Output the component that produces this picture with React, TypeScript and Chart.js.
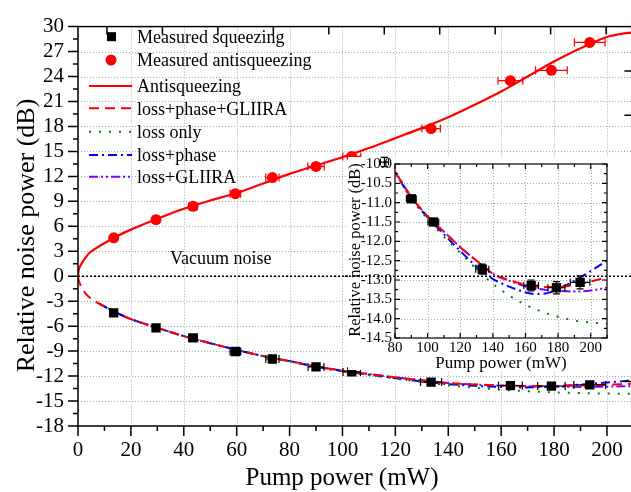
import React, { useEffect, useRef } from "react";
import { Chart, registerables } from "chart.js";
Chart.register(...registerables);

const FONT = '"Liberation Serif", "Times New Roman", serif';

// Measured data (pump power in mW, noise in dB)
const MEAS_X = [13.5, 29.5, 43.5, 59.5, 73.5, 90, 103.5, 133.5, 163.5, 179, 193.5];
const SQZ_Y = [-4.4, -6.2, -7.4, -9.05, -9.95, -10.9, -11.5, -12.72, -13.14, -13.2, -13.06];
const SQZ_XERR = [1.0, 1.3, 1.6, 2.0, 2.5, 3.0, 3.3, 4.0, 4.5, 5.2, 6.0];
const SQZ_YERR = [0.25, 0.2, 0.18, 0.15, 0.12, 0.06, 0.08, 0.13, 0.14, 0.16, 0.17];
const ANTI_Y = [4.62, 6.8, 8.4, 9.92, 11.85, 13.2, 14.4, 17.75, 23.5, 24.75, 28.1];
const ANTI_XERR = [1.0, 1.3, 1.6, 2.0, 2.5, 3.1, 3.4, 3.5, 4.7, 6.0, 5.8];
const ANTI_YERR = [0.2, 0.2, 0.2, 0.2, 0.2, 0.2, 0.2, 0.2, 0.2, 0.2, 0.2];

// Antisqueezing model curve
const ANTI_FIT_X = [0, 0.2, 0.6, 1.4, 3, 4.5, 7, 9.6, 13.4, 20, 30, 40, 50, 60, 70, 80, 90, 100, 110, 120, 130, 140, 150, 160, 170, 180, 190, 200, 205, 210];
const ANTI_FIT_Y = [0, 0.6, 1.05, 1.55, 2.3, 2.85, 3.4, 3.9, 4.6, 5.6, 6.9, 8.1, 9.1, 10.0, 11.15, 12.3, 13.3, 14.3, 15.4, 16.6, 17.8, 19.1, 20.6, 22.2, 24.0, 25.8, 27.4, 28.75, 29.1, 29.3];

// loss+phase+GLIIRA
const LPG_X = [0, 0.3, 1, 2, 3.5, 5, 8, 11, 14, 20, 25, 30, 40, 50, 60, 70, 80, 90, 100, 110, 120, 130, 140, 150, 160, 170, 180, 190, 200, 210];
const LPG_Y = [0, -0.5, -1.1, -1.7, -2.3, -2.7, -3.3, -3.8, -4.3, -5.15, -5.7, -6.2, -7.2, -8.05, -8.85, -9.6, -10.2, -10.85, -11.35, -11.75, -12.15, -12.5, -12.84, -13.0, -13.12, -13.18, -13.18, -13.13, -13.04, -12.93];

// loss only
const LO_X = [8, 11, 14, 20, 25, 30, 40, 50, 60, 70, 80, 90, 100, 110, 120, 130, 140, 150, 160, 170, 180, 190, 200, 210];
const LO_Y = [-3.3, -3.8, -4.3, -5.15, -5.7, -6.2, -7.2, -8.05, -8.85, -9.6, -10.22, -10.9, -11.42, -11.88, -12.3, -12.72, -13.1, -13.4, -13.64, -13.82, -13.95, -14.05, -14.1, -14.13];

// loss+phase
const LP_X = [8, 11, 14, 20, 25, 30, 40, 50, 60, 70, 80, 90, 100, 110, 120, 130, 140, 150, 160, 165, 170, 175, 180, 185, 190, 195, 200, 210];
const LP_Y = [-3.3, -3.8, -4.3, -5.15, -5.7, -6.2, -7.2, -8.05, -8.85, -9.6, -10.22, -10.88, -11.38, -11.82, -12.25, -12.65, -12.97, -13.17, -13.32, -13.36, -13.36, -13.32, -13.24, -13.13, -13.02, -12.9, -12.77, -12.5];

// loss+GLIIRA
const LG_X = [8, 11, 14, 20, 25, 30, 40, 50, 60, 70, 80, 90, 100, 110, 120, 130, 140, 150, 160, 170, 180, 190, 200, 210];
const LG_Y = [-3.3, -3.8, -4.3, -5.15, -5.7, -6.2, -7.2, -8.05, -8.85, -9.6, -10.2, -10.85, -11.35, -11.75, -12.15, -12.5, -12.84, -13.02, -13.16, -13.24, -13.28, -13.3, -13.27, -13.2];

// Axis tick settings
const MAIN_X_TICKS = { min: 0, max: 210, step: 20, minor: 10 };
const MAIN_Y_TICKS = { min: -18, max: 30, step: 3, minor: 1.5 };
const INSET_X_TICKS = { min: 80, max: 210, step: 20, minor: 10 };
const INSET_Y_TICKS = { min: -14.5, max: -10, step: 0.5, minor: 0.25 };
const TOP_TICK_START = 10.95;
const TOP_TICK_STEP = 20.97;
const RIGHT_TICK_STEP = 48 / 9;

const LEGEND_LABELS = [
  "Measured squeezing",
  "Measured antisqueezing",
  "Antisqueezing",
  "loss+phase+GLIIRA",
  "loss only",
  "loss+phase",
  "loss+GLIIRA",
];

const RED = "#ff0000";
const GREEN = "#008000";
const BLUE = "#0000ff";
const PURPLE = "#8000ff";

const mk = (xs: number[], ys: number[]) => xs.map((x, i) => ({ x, y: ys[i] }));

function lineDs(label: string, xs: number[], ys: number[], color: string, dash: number[], width = 2) {
  return {
    label,
    data: mk(xs, ys),
    showLine: true,
    borderColor: color,
    backgroundColor: color,
    borderWidth: width,
    borderDash: dash,
    pointRadius: 0,
    cubicInterpolationMode: "monotone" as const,
  };
}

const isMajor = (v: number, step: number) => Math.abs(v / step - Math.round(v / step)) < 1e-6;

function range(min: number, max: number, step: number) {
  const out: number[] = [];
  const n = Math.round((max - min) / step);
  for (let i = 0; i <= n; i++) out.push(+(min + i * step).toFixed(6));
  return out;
}

function drawGrid(chart: any, xt: any, yt: any, color: string) {
  const { ctx, chartArea: ca, scales } = chart;
  ctx.save();
  ctx.strokeStyle = color;
  ctx.lineWidth = 1;
  ctx.setLineDash([1, 2]);
  for (const v of range(xt.min, xt.max, xt.step)) {
    if (!isMajor(v, xt.step)) continue;
    const p = Math.round(scales.x.getPixelForValue(v)) + 0.5;
    if (p <= ca.left + 2 || p >= ca.right - 2) continue;
    ctx.beginPath();
    ctx.moveTo(p, ca.top);
    ctx.lineTo(p, ca.bottom);
    ctx.stroke();
  }
  for (const v of range(yt.min, yt.max, yt.step)) {
    const p = Math.round(scales.y.getPixelForValue(v)) + 0.5;
    if (p <= ca.top + 2 || p >= ca.bottom - 2) continue;
    ctx.beginPath();
    ctx.moveTo(ca.left, p);
    ctx.lineTo(ca.right, p);
    ctx.stroke();
  }
  ctx.restore();
}

function drawErrors(chart: any, dsIndex: number, xe: number[], ye: number[], color: string, cap: number) {
  const { ctx, scales } = chart;
  const data = chart.data.datasets[dsIndex].data as { x: number; y: number }[];
  ctx.save();
  ctx.strokeStyle = color;
  ctx.lineWidth = 1.2;
  ctx.setLineDash([]);
  data.forEach((d, i) => {
    const px = scales.x.getPixelForValue(d.x);
    const py = scales.y.getPixelForValue(d.y);
    const x1 = scales.x.getPixelForValue(d.x - xe[i]);
    const x2 = scales.x.getPixelForValue(d.x + xe[i]);
    const y1 = scales.y.getPixelForValue(d.y - ye[i]);
    const y2 = scales.y.getPixelForValue(d.y + ye[i]);
    ctx.beginPath();
    ctx.moveTo(x1, py);
    ctx.lineTo(x2, py);
    ctx.moveTo(x1, py - cap);
    ctx.lineTo(x1, py + cap);
    ctx.moveTo(x2, py - cap);
    ctx.lineTo(x2, py + cap);
    ctx.moveTo(px, y1);
    ctx.lineTo(px, y2);
    ctx.moveTo(px - cap, y1);
    ctx.lineTo(px + cap, y1);
    ctx.moveTo(px - cap, y2);
    ctx.lineTo(px + cap, y2);
    ctx.stroke();
  });
  ctx.restore();
}

function drawFrameTicks(chart: any, xt: any, yt: any, inward: boolean, mirror: boolean, majorLen: number, minorLen: number, lw: number) {
  const { ctx, chartArea: ca, scales } = chart;
  ctx.save();
  ctx.strokeStyle = "#000";
  ctx.lineWidth = lw;
  ctx.setLineDash([]);
  ctx.strokeRect(ca.left, ca.top, ca.right - ca.left, ca.bottom - ca.top);
  const dir = inward ? -1 : 1;
  ctx.beginPath();
  for (const v of range(xt.min, xt.max, xt.minor)) {
    const p = scales.x.getPixelForValue(v);
    const len = isMajor(v, xt.step) ? majorLen : minorLen;
    ctx.moveTo(p, ca.bottom);
    ctx.lineTo(p, ca.bottom + dir * len);
    if (mirror) {
      ctx.moveTo(p, ca.top);
      ctx.lineTo(p, ca.top + len);
    }
  }
  for (const v of range(yt.min, yt.max, yt.minor)) {
    const p = scales.y.getPixelForValue(v);
    const len = isMajor(v, yt.step) ? majorLen : minorLen;
    ctx.moveTo(ca.left, p);
    ctx.lineTo(ca.left - dir * len, p);
    if (mirror) {
      ctx.moveTo(ca.right, p);
      ctx.lineTo(ca.right - len, p);
    }
  }
  ctx.stroke();
  ctx.restore();
}

const tickFont = (size: number) => ({ family: FONT, size });

export default function App() {
  const mainRef = useRef<HTMLCanvasElement>(null);
  const insetRef = useRef<HTMLCanvasElement>(null);

  useEffect(() => {
    if (!mainRef.current || !insetRef.current) return;
    const MAIN_TOP = 0;
    const INSET_TOP = 150;
    let vacuumPixel = 0;

    const legendMarkerY = [36.7, 60, 86, 108.3, 131.7, 155, 176.7];

    const mainPlugin = {
      id: "mainDecor",
      beforeDatasetsDraw(chart: any) {
        drawGrid(chart, MAIN_X_TICKS, MAIN_Y_TICKS, "#a8a8a8");
      },
      afterDatasetsDraw(chart: any) {
        const { ctx, chartArea: ca, scales } = chart;
        drawErrors(chart, 0, SQZ_XERR, SQZ_YERR, "#000", 4);
        drawErrors(chart, 1, ANTI_XERR, ANTI_YERR, RED, 4);
        drawFrameTicks(chart, MAIN_X_TICKS, MAIN_Y_TICKS, false, false, 10, 5, 1.5);
        // top and right axis ticks (inward)
        ctx.save();
        ctx.strokeStyle = "#000";
        ctx.lineWidth = 1.5;
        ctx.beginPath();
        for (let k = 0; k < 10; k++) {
          const p = scales.x.getPixelForValue(TOP_TICK_START + k * TOP_TICK_STEP);
          ctx.moveTo(p, ca.top);
          ctx.lineTo(p, ca.top + 8);
        }
        for (let k = 1; k < 9; k++) {
          const p = scales.y.getPixelForValue(30 - k * RIGHT_TICK_STEP);
          ctx.moveTo(ca.right, p);
          ctx.lineTo(ca.right - 9, p);
        }
        ctx.stroke();
        // vacuum noise line
        const y0 = scales.y.getPixelForValue(0);
        ctx.lineWidth = 1.3;
        ctx.setLineDash([2, 2]);
        ctx.beginPath();
        ctx.moveTo(ca.left, y0);
        ctx.lineTo(ca.right, y0);
        ctx.stroke();
        ctx.setLineDash([]);
        ctx.fillStyle = "#000";
        ctx.font = `18px ${FONT}`;
        ctx.textAlign = "left";
        ctx.textBaseline = "alphabetic";
        ctx.fillText("Vacuum noise", 170, 264);
        // legend
        const dss = chart.data.datasets;
        LEGEND_LABELS.forEach((label, i) => {
          const yy = legendMarkerY[i];
          const ds = dss[i];
          ctx.save();
          if (i === 0) {
            ctx.fillStyle = "#000";
            ctx.fillRect(107, yy - 4.5, 9, 9);
          } else if (i === 1) {
            ctx.fillStyle = RED;
            ctx.beginPath();
            ctx.arc(111, yy, 5.5, 0, Math.PI * 2);
            ctx.fill();
          } else {
            ctx.strokeStyle = ds.borderColor;
            ctx.lineWidth = ds.borderWidth;
            ctx.setLineDash(ds.borderDash || []);
            ctx.beginPath();
            ctx.moveTo(89, yy);
            ctx.lineTo(132, yy);
            ctx.stroke();
          }
          ctx.restore();
          ctx.fillStyle = "#000";
          ctx.font = `18px ${FONT}`;
          ctx.textAlign = "left";
          ctx.textBaseline = "alphabetic";
          ctx.fillText(label, 137, yy + 6.4);
        });
        // axis titles
        ctx.font = `25px ${FONT}`;
        ctx.textAlign = "center";
        ctx.fillText("Pump power (mW)", 342, 485);
        ctx.save();
        ctx.font = `26px ${FONT}`;
        ctx.translate(34, 235.5);
        ctx.rotate(-Math.PI / 2);
        ctx.fillText("Relative noise power (dB)", 0, 0);
        ctx.restore();
        ctx.restore();
      },
    };

    const main = new Chart(mainRef.current, {
      type: "scatter",
      data: {
        datasets: [
          {
            label: LEGEND_LABELS[0],
            data: mk(MEAS_X, SQZ_Y),
            pointStyle: "rect",
            pointRadius: 6.6,
            backgroundColor: "#000",
            borderColor: "#000",
            borderWidth: 0,
          },
          {
            label: LEGEND_LABELS[1],
            data: mk(MEAS_X, ANTI_Y),
            pointStyle: "circle",
            pointRadius: 5.5,
            backgroundColor: RED,
            borderColor: RED,
            borderWidth: 0,
          },
          lineDs(LEGEND_LABELS[2], ANTI_FIT_X, ANTI_FIT_Y, RED, [], 2.2),
          lineDs(LEGEND_LABELS[3], LPG_X, LPG_Y, RED, [10, 6]),
          lineDs(LEGEND_LABELS[4], LO_X, LO_Y, GREEN, [2, 8]),
          lineDs(LEGEND_LABELS[5], LP_X, LP_Y, BLUE, [9, 4, 2, 4]),
          lineDs(LEGEND_LABELS[6], LG_X, LG_Y, PURPLE, [9, 3, 2, 3, 2, 3]),
        ] as any,
      },
      options: {
        responsive: false,
        animation: false,
        devicePixelRatio: 1,
        events: [],
        layout: { padding: { left: 0, top: 17, right: 6, bottom: 0 } },
        plugins: { legend: { display: false }, tooltip: { enabled: false } },
        scales: {
          x: {
            type: "linear",
            position: "bottom",
            min: MAIN_X_TICKS.min,
            max: MAIN_X_TICKS.max,
            grid: { display: false, drawTicks: false },
            border: { display: false },
            ticks: {
              stepSize: MAIN_X_TICKS.step,
              includeBounds: false,
              autoSkip: false,
              maxRotation: 0,
              padding: 12,
              color: "#000",
              font: tickFont(21),
              callback: (v: any) => String(v),
            },
            afterFit: (s: any) => {
              s.height = 66;
            },
          },
          y: {
            type: "linear",
            min: MAIN_Y_TICKS.min,
            max: MAIN_Y_TICKS.max,
            grid: { display: false, drawTicks: false },
            border: { display: false },
            ticks: {
              stepSize: MAIN_Y_TICKS.step,
              autoSkip: false,
              padding: 14,
              color: "#000",
              font: tickFont(21),
              callback: (v: any) => String(v),
            },
            afterFit: (s: any) => {
              s.width = 78;
            },
          },
        },
      } as any,
      plugins: [mainPlugin as any],
    });

    vacuumPixel = main.scales.y.getPixelForValue(0) + MAIN_TOP - INSET_TOP;

    const insetPlugin = {
      id: "insetDecor",
      beforeDraw(chart: any) {
        const { ctx } = chart;
        ctx.save();
        ctx.fillStyle = "#fff";
        ctx.fillRect(3, 7, chart.width - 3, 213);
        ctx.restore();
      },
      beforeDatasetsDraw(chart: any) {
        drawGrid(chart, INSET_X_TICKS, INSET_Y_TICKS, "#a8a8a8");
      },
      afterDatasetsDraw(chart: any) {
        const { ctx, chartArea: ca } = chart;
        drawErrors(chart, 0, SQZ_XERR, SQZ_YERR, "#000", 3.5);
        drawFrameTicks(chart, INSET_X_TICKS, INSET_Y_TICKS, true, true, 5, 3, 1.2);
        ctx.save();
        ctx.strokeStyle = "#000";
        ctx.lineWidth = 1.3;
        ctx.setLineDash([2, 2]);
        ctx.beginPath();
        ctx.moveTo(0, vacuumPixel);
        ctx.lineTo(chart.width, vacuumPixel);
        ctx.stroke();
        ctx.setLineDash([]);
        ctx.fillStyle = "#000";
        ctx.textBaseline = "alphabetic";
        ctx.textAlign = "center";
        ctx.font = `17px ${FONT}`;
        ctx.fillText("Pump power (mW)", (ca.left + ca.right) / 2, 218.4);
        ctx.font = `16.5px ${FONT}`;
        ctx.translate(14.5, (ca.top + ca.bottom) / 2 - 1);
        ctx.rotate(-Math.PI / 2);
        ctx.fillText("Relative noise power (dB)", 0, 0);
        ctx.restore();
      },
    };

    const inset = new Chart(insetRef.current, {
      type: "scatter",
      data: {
        datasets: [
          {
            label: LEGEND_LABELS[0],
            data: mk(MEAS_X, SQZ_Y),
            pointStyle: "rect",
            pointRadius: 6.6,
            backgroundColor: "#000",
            borderColor: "#000",
            borderWidth: 0,
          },
          lineDs(LEGEND_LABELS[3], LPG_X, LPG_Y, RED, [10, 6]),
          lineDs(LEGEND_LABELS[4], LO_X, LO_Y, GREEN, [2, 8]),
          lineDs(LEGEND_LABELS[5], LP_X, LP_Y, BLUE, [9, 4, 2, 4]),
          lineDs(LEGEND_LABELS[6], LG_X, LG_Y, PURPLE, [9, 3, 2, 3, 2, 3]),
        ] as any,
      },
      options: {
        responsive: false,
        animation: false,
        devicePixelRatio: 1,
        events: [],
        layout: { padding: { left: 0, top: 14, right: 24, bottom: 0 } },
        plugins: { legend: { display: false }, tooltip: { enabled: false } },
        scales: {
          x: {
            type: "linear",
            min: INSET_X_TICKS.min,
            max: INSET_X_TICKS.max,
            grid: { display: false, drawTicks: false },
            border: { display: false },
            ticks: {
              stepSize: INSET_X_TICKS.step,
              includeBounds: false,
              autoSkip: false,
              maxRotation: 0,
              padding: 1,
              color: "#000",
              font: tickFont(15),
              callback: (v: any) => String(v),
            },
            afterFit: (s: any) => {
              s.height = 38;
            },
          },
          y: {
            type: "linear",
            min: INSET_Y_TICKS.min,
            max: INSET_Y_TICKS.max,
            grid: { display: false, drawTicks: false },
            border: { display: false },
            ticks: {
              stepSize: INSET_Y_TICKS.step,
              autoSkip: false,
              padding: 3,
              color: "#000",
              font: tickFont(15),
              callback: (v: any) => Number(v).toFixed(1),
            },
            afterFit: (s: any) => {
              s.width = 50;
            },
          },
        },
      } as any,
      plugins: [insetPlugin as any],
    });

    return () => {
      main.destroy();
      inset.destroy();
    };
  }, []);

  return (
    <div
      style={{
        position: "absolute",
        left: 0,
        top: 0,
        width: 631,
        height: 492,
        overflow: "hidden",
        background: "#fff",
      }}
    >
      <canvas ref={mainRef} width={640} height={492} style={{ position: "absolute", left: 0, top: 0 }} />
      <canvas ref={insetRef} width={286} height={226} style={{ position: "absolute", left: 345, top: 150 }} />
    </div>
  );
}
